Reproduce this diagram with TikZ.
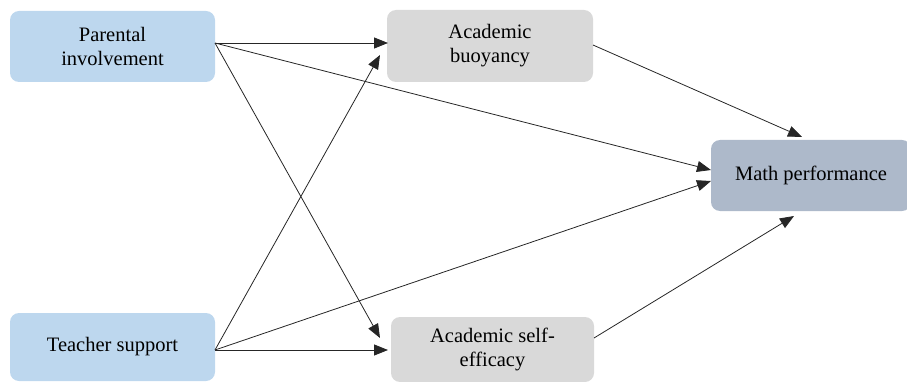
\documentclass[tikz,border=0pt]{standalone}
\usepackage{fontspec}
\setmainfont{Liberation Serif}
\newfontfamily\boxfont{Liberation Serif}
\usetikzlibrary{arrows.meta,positioning}
\definecolor{inblue}{HTML}{BDD7EE}
\definecolor{medgray}{HTML}{D9D9D9}
\definecolor{outblue}{HTML}{ADB9CA}
\begin{document}
\begin{tikzpicture}[x=1pt,y=-1pt,>={Triangle[length=14pt,width=11pt]},
  every node/.style={font=\boxfont\fontsize{20.5}{24}\selectfont},
  box/.style={rounded corners=9pt,align=center,inner sep=0pt}]
\useasboundingbox (0,0) rectangle (907,382);
\node[box,fill=inblue,minimum width=205pt,minimum height=71pt] (par) at (112.5,46.5) {Parental\\involvement};
\node[box,fill=inblue,minimum width=205pt,minimum height=68pt] (tea) at (112.5,347) {Teacher support};
\node[box,fill=medgray,minimum width=206pt,minimum height=72pt] (buo) at (490,46) {Academic\\buoyancy};
\node[box,fill=medgray,minimum width=203pt,minimum height=65pt] (eff) at (492.5,349.5) {Academic self-\\efficacy};
\node[box,fill=outblue,minimum width=200pt,minimum height=71pt] (mat) at (811,175.5) {Math performance};
% free ends of the arrows
\coordinate (parout) at (215,43);
\coordinate (teaout) at (215,350);
\coordinate (buoout) at (593,45);
\coordinate (effout) at (594,338);
\coordinate (buoin1) at (388,43);
\coordinate (buoin2) at (380,55);
\coordinate (effin1) at (380,338);
\coordinate (effin2) at (388,350);
\coordinate (matin1) at (711,170);
\coordinate (matin2) at (711,181);
\coordinate (matin3) at (802,137);
\coordinate (matin4) at (794,216);
\begin{scope}[line width=0.8pt,draw=black!85]
\draw[->] (parout) -- (buoin1);
\draw[->] (parout) -- (matin1);
\draw[->] (parout) -- (effin1);
\draw[->] (teaout) -- (buoin2);
\draw[->] (teaout) -- (effin2);
\draw[->] (teaout) -- (matin2);
\draw[->] (buoout) -- (matin3);
\draw[->] (effout) -- (matin4);
\end{scope}
\end{tikzpicture}
\end{document}
